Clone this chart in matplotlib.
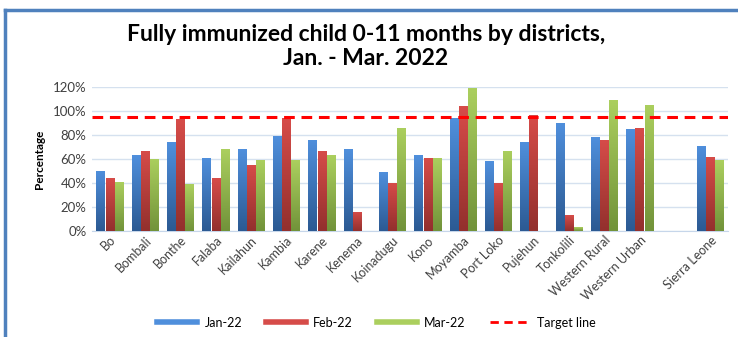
import numpy as np
import matplotlib
matplotlib.use("Agg")
import matplotlib.pyplot as plt
from matplotlib.lines import Line2D
from matplotlib.colors import LinearSegmentedColormap

# data (values in %)
districts = ["Bo", "Bombali", "Bonthe", "Falaba", "Kailahun", "Kambia", "Karene",
             "Kenema", "Koinadugu", "Kono", "Moyamba", "Port Loko", "Pujehun",
             "Tonkolili", "Western Rural", "Western Urban", "", "Sierra Leone"]
jan22 = [50, 63, 74, 61, 68, 79, 76, 68, 49, 63, 94, 58, 74, 90, 78, 85, np.nan, 71]
feb22 = [44, 67, 93, 44, 55, 94, 67, 16, 40, 61, 104, 40, 97, 13, 76, 86, np.nan, 62]
mar22 = [41, 60, 39, 68, 59, 59, 63, 0, 86, 61, 119, 67, 0, 3, 109, 105, np.nan, 59]
target = 95
series_names = ["Jan-22", "Feb-22", "Mar-22"]

plt.rcParams["font.family"] = ["Lato", "DejaVu Sans"]

fig = plt.figure(figsize=(7.38, 3.37), dpi=100)
ax = fig.add_axes([0.1247, 0.3145, 0.8617, 0.4273])

x = np.arange(len(districts))
w = 0.235
step = 0.26
grads = [("#4f8fdc", "#2c5a93"), ("#d64c49", "#93302d"), ("#abcf5e", "#72933a")]
vals = [jan22, feb22, mar22]

for i, (v, (top, bot)) in enumerate(zip(vals, grads)):
    bars = ax.bar(x + (i - 1) * step, v, width=w, color="none", edgecolor="none", zorder=3)
    cmap = LinearSegmentedColormap.from_list("g%d" % i, [bot, top])
    for b in bars:
        h = b.get_height()
        if not np.isfinite(h) or h <= 0:
            continue
        x0 = b.get_x()
        im = ax.imshow(np.linspace(0, 1, 50).reshape(-1, 1), cmap=cmap, origin="lower",
                       extent=[x0, x0 + b.get_width(), 0, h], aspect="auto", zorder=3)
        im.set_clip_path(b)

ax.axhline(target, color="#ff0000", ls=(0, (3.5, 2.2)), lw=2.2, zorder=4)

ax.set_xlim(-0.5, len(districts) - 0.5)
ax.set_ylim(0, 120)
ax.set_yticks(np.arange(0, 121, 20))
ax.set_yticklabels(["%d%%" % t for t in range(0, 121, 20)], fontsize=9.5, color="#404040")
ax.set_xticks(x)
ax.set_xticklabels(districts, rotation=45, ha="right", rotation_mode="anchor",
                   fontsize=9, color="#404040")
ax.tick_params(axis="both", length=0, pad=4)
ax.tick_params(axis="x", pad=2)
ax.grid(axis="y", color="#d5e1ef", lw=1, zorder=0)
for s in ["top", "right", "left"]:
    ax.spines[s].set_visible(False)
ax.spines["bottom"].set_color("#c6d6ea")
ax.set_ylabel("Percentage", fontsize=8.5, fontweight="bold", labelpad=6)

fig.text(0.496, 0.897, "Fully immunized child 0-11 months by districts,",
         ha="center", va="center", fontsize=16.5, fontweight="bold")
fig.text(0.496, 0.825, "Jan. - Mar. 2022", ha="center", va="center",
         fontsize=16.5, fontweight="bold")

handles = [Line2D([0], [0], color=c[0], lw=4) for c in grads]
handles.append(Line2D([0], [0], color="#ff0000", lw=2, ls=(0, (3, 2))))
fig.legend(handles, series_names + ["Target line"], loc="center",
           bbox_to_anchor=(0.51, 0.043), ncol=4, frameon=False, fontsize=9,
           handlelength=3.2, columnspacing=1.9, handletextpad=0.6)

# blue frame (left and top edges)
fig.add_artist(Line2D([0.0061, 0.0061], [0, 0.97], transform=fig.transFigure,
                      color="#4f81bd", lw=2.5))
fig.add_artist(Line2D([0.0061, 1.0], [0.97, 0.97], transform=fig.transFigure,
                      color="#4f81bd", lw=2.5))

plt.savefig("out.png", dpi=100)
